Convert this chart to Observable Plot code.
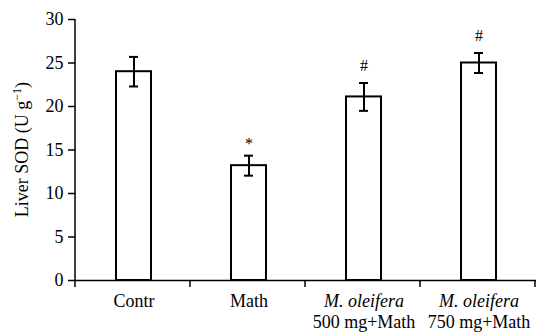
<!DOCTYPE html>
<html>
<head>
<meta charset="utf-8">
<script src="https://cdn.jsdelivr.net/npm/d3@7"></script>
<script src="https://cdn.jsdelivr.net/npm/@observablehq/plot@0.6"></script>
<style>
  html, body { margin: 0; padding: 0; background: white; }
  svg, svg text { font-family: 'Liberation Serif', 'Times New Roman', serif !important; }
</style>
</head>
<body>
<div id="chart"></div>
<script>
const groups = ["Contr", "Math", "M. oleifera 500 mg+Math", "M. oleifera 750 mg+Math"];
const labelLine1 = ["Contr", "Math", "M. oleifera", "M. oleifera"];
const labelItalic = [false, false, true, true];
const labelLine2 = ["", "", "500 mg+Math", "750 mg+Math"];
const means = [24.0, 13.2, 21.1, 25.0];
const errors = [1.7, 1.15, 1.6, 1.15];
const signif = ["", "*", "#", "#"];
const yTicks = [0, 5, 10, 15, 20, 25, 30];
const yLabelMain = "Liver SOD (U g";
const yLabelSup = "\u22121";
const yLabelEnd = ")";

const rows = groups.map((g, i) => ({
  group: g, mean: means[i], err: errors[i], mark: signif[i],
  line1: labelLine1[i], italic: labelItalic[i], line2: labelLine2[i]
}));

const serif = "'Liberation Serif', 'Times New Roman', serif";

const plot = Plot.plot({
  width: 536,
  height: 333,
  marginLeft: 75,
  marginRight: 0,
  marginTop: 19,
  marginBottom: 53,
  style: {fontFamily: serif, fontSize: "18px", color: "black", background: "white"},
  x: {domain: groups, paddingInner: 0.7, paddingOuter: 0.35, axis: null},
  y: {domain: [0, 30]},
  marks: [
    Plot.axisY({ticks: yTicks, tickSize: 7, tickPadding: 5, label: null, strokeWidth: 1.5, fontSize: 18, fontFamily: serif}),
    Plot.barY(rows, {x: "group", y: "mean", fill: "white", stroke: "black", strokeWidth: 2}),
    Plot.ruleX(rows, {x: "group", y1: d => d.mean - d.err, y2: d => d.mean + d.err, stroke: "black", strokeWidth: 2}),
    Plot.tickY(rows, {x: "group", y: d => d.mean + d.err, insetLeft: 13, insetRight: 13, stroke: "black", strokeWidth: 2}),
    Plot.tickY(rows, {x: "group", y: d => d.mean - d.err, insetLeft: 13, insetRight: 13, stroke: "black", strokeWidth: 2}),
    Plot.text(rows.filter(d => d.mark === "*"), {x: "group", y: d => d.mean + d.err, text: "mark", lineAnchor: "bottom", dy: -7, fontSize: 16, fontFamily: serif}),
    Plot.text(rows.filter(d => d.mark === "#"), {x: "group", y: d => d.mean + d.err, text: "mark", lineAnchor: "bottom", dy: -12, fontSize: 16, fontFamily: serif}),
    Plot.ruleY([0], {stroke: "black", strokeWidth: 1.5}),
    Plot.text(rows.filter(d => !d.italic), {x: "group", text: "line1", frameAnchor: "bottom", lineAnchor: "bottom", dy: 26, fontSize: 18, fontFamily: serif}),
    Plot.text(rows.filter(d => d.italic), {x: "group", text: "line1", frameAnchor: "bottom", lineAnchor: "bottom", dy: 26, fontSize: 18, fontStyle: "italic", fontFamily: serif}),
    Plot.text(rows.filter(d => d.line2), {x: "group", text: "line2", frameAnchor: "bottom", lineAnchor: "bottom", dy: 47, fontSize: 18, fontFamily: serif})
  ]
});

// Axis lines and boundary ticks, from the plot's own scales
const sx = plot.scale("x");
const sy = plot.scale("y");
const svg = d3.select(plot);
const x0 = sx.range[0];
const yTop = sy.apply(yTicks[yTicks.length - 1]);
const yBase = sy.apply(0);
svg.append("line")
  .attr("x1", x0).attr("x2", x0).attr("y1", yTop).attr("y2", yBase)
  .attr("stroke", "black").attr("stroke-width", 1.5);
const bounds = d3.range(groups.length + 1).map(i => x0 + i * sx.step);
svg.append("g").selectAll("line").data(bounds).join("line")
  .attr("x1", d => d).attr("x2", d => d)
  .attr("y1", yBase).attr("y2", yBase + 7)
  .attr("stroke", "black").attr("stroke-width", 1.5);

// y-axis label with superscript
const yl = svg.append("text")
  .attr("transform", `translate(28,${(yTop + yBase) / 2}) rotate(-90)`)
  .attr("text-anchor", "middle")
  .attr("font-size", 18)
  .attr("font-family", serif)
  .attr("fill", "black");
yl.append("tspan").text(yLabelMain);
yl.append("tspan").attr("dy", -7).attr("font-size", 12).text(yLabelSup);
yl.append("tspan").attr("dy", 7).text(yLabelEnd);

document.getElementById("chart").appendChild(plot);
</script>
</body>
</html>
